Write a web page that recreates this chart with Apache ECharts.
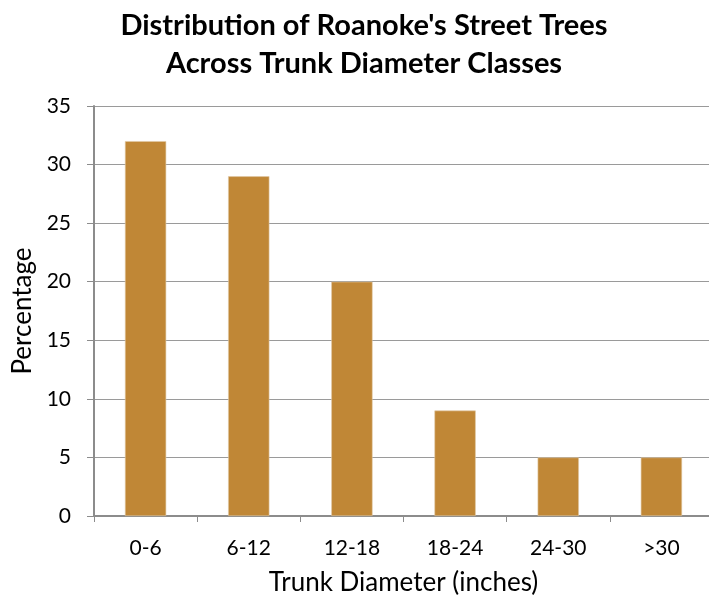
<!DOCTYPE html>
<html>
<head>
<meta charset="utf-8">
<script src="https://cdn.jsdelivr.net/npm/echarts@6/dist/echarts.min.js"></script>
<style>
  html, body { margin: 0; padding: 0; background: #fff; }
  #chart { width: 709px; height: 600px; }
</style>
</head>
<body>
<div id="chart"></div>
<script>
// Diameter classes (inches) and share of street trees in each (%)
const categories = ['0-6', '6-12', '12-18', '18-24', '24-30', '>30'];
const percentages = [32, 29, 20, 9, 5, 5];

const yMin = 0;
const yMax = 35;
const yStep = 5;

const font = 'Lato, "Open Sans", "Liberation Sans", sans-serif';

const chart = echarts.init(document.getElementById('chart'), null, { renderer: 'canvas' });

chart.setOption({
  animation: false,
  backgroundColor: '#ffffff',
  title: {
    text: "Distribution of Roanoke's Street Trees\nAcross Trunk Diameter Classes",
    left: 359,
    top: 2,
    textAlign: 'center',
    textStyle: {
      fontFamily: font,
      fontWeight: 'bold',
      fontSize: 29,
      lineHeight: 37.5,
      color: '#000'
    }
  },
  grid: {
    left: 94,
    right: -4,
    top: 106,
    bottom: 84,
    containLabel: false,
    outerBoundsMode: 'none'
  },
  xAxis: {
    type: 'category',
    data: categories,
    name: 'Trunk Diameter (inches)',
    nameLocation: 'middle',
    nameGap: 54,
    nameTextStyle: { fontFamily: font, fontSize: 26, color: '#000' },
    axisLine: { lineStyle: { color: '#8c8c8c', width: 2 } },
    axisTick: { show: true, alignWithLabel: false, length: 6, lineStyle: { color: '#8c8c8c', width: 1 } },
    axisLabel: { fontFamily: font, fontSize: 21, color: '#000', margin: 22 },
    splitLine: { show: false }
  },
  yAxis: {
    type: 'value',
    min: yMin,
    max: yMax,
    interval: yStep,
    name: 'Percentage',
    nameLocation: 'middle',
    nameGap: 55,
    nameTextStyle: { fontFamily: font, fontSize: 26, color: '#000' },
    axisLine: { show: true, lineStyle: { color: '#8c8c8c', width: 2 } },
    axisTick: { show: true, inside: false, length: 7, lineStyle: { color: '#8c8c8c', width: 1 } },
    axisLabel: { fontFamily: font, fontSize: 21, color: '#000', margin: 23 },
    splitLine: { show: true, lineStyle: { color: '#9a9a9a', width: 1 } }
  },
  series: [{
    type: 'bar',
    data: percentages,
    barWidth: '40%',
    itemStyle: {
      color: '#C08736',
      borderColor: '#E0C9A6',
      borderWidth: 0.6
    }
  }]
});
</script>
</body>
</html>
